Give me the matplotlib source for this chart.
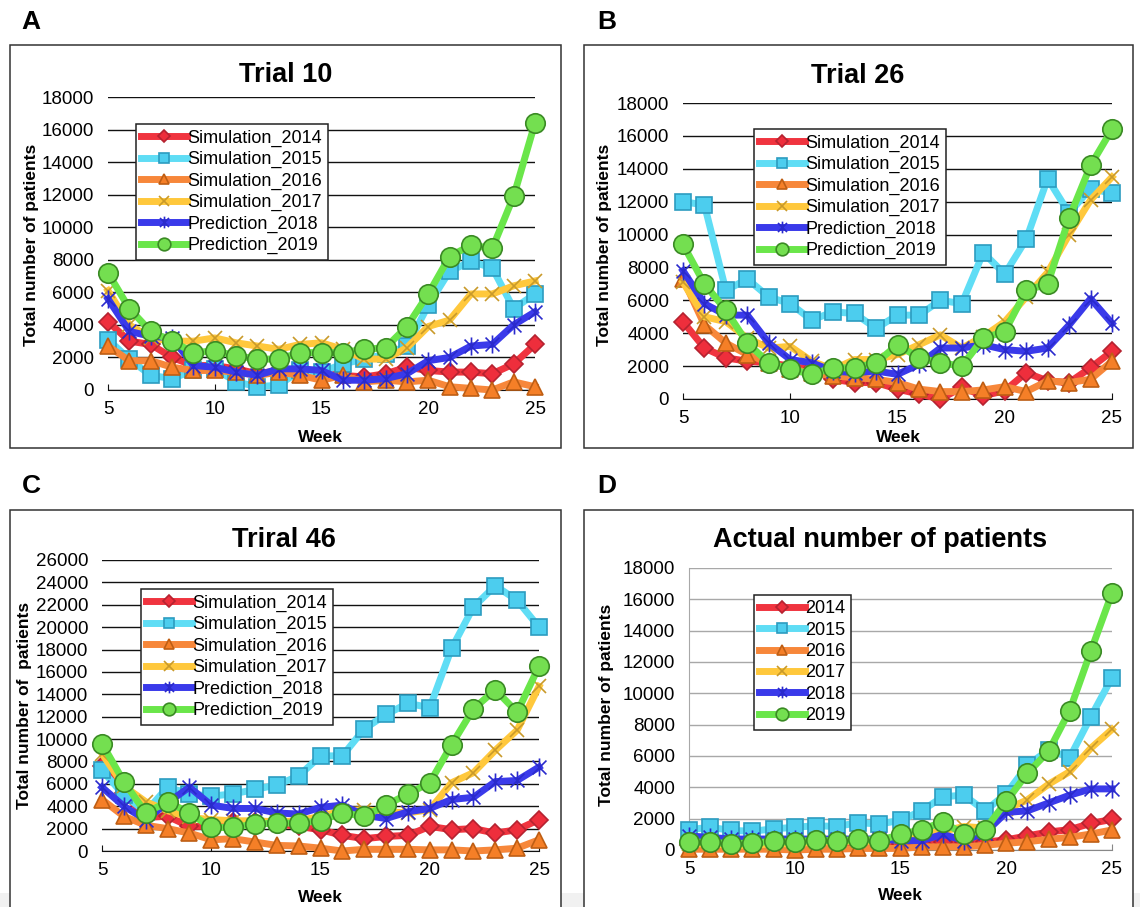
import matplotlib
matplotlib.use("Agg")
import matplotlib.pyplot as plt
from matplotlib.patches import Rectangle
from matplotlib.path import Path

plt.rcParams['font.family'] = ['Liberation Sans', 'DejaVu Sans']

weeks = list(range(5, 26))

# Trial 10
a14 = [4200, 3000, 2800, 2000, 1500, 1500, 1300, 1000, 1200, 1300, 1100, 900, 800, 1000, 1400, 1200, 1100, 1100, 1000, 1600, 2800]
a15 = [3100, 1900, 900, 700, 1200, 1300, 500, 200, 300, 1200, 1100, 1600, 1900, 2200, 2700, 5200, 7300, 7900, 7500, 5000, 5900]
a16 = [2700, 1800, 1800, 1400, 1200, 1200, 1100, 900, 1100, 900, 600, 900, 500, 600, 500, 600, 200, 100, 0, 500, 200]
a17 = [6100, 4000, 3200, 3000, 3000, 3200, 2900, 2700, 2500, 2800, 2900, 2500, 1900, 1900, 2600, 3900, 4300, 5900, 5900, 6400, 6700]
a18 = [5600, 3600, 3300, 3200, 1500, 1400, 1100, 900, 1300, 1300, 1200, 600, 600, 700, 1000, 1800, 2000, 2700, 2800, 4000, 4800]
a19 = [7200, 5000, 3600, 3000, 2300, 2400, 2100, 1900, 1900, 2300, 2300, 2300, 2500, 2600, 3900, 5900, 8200, 8900, 8700, 11900, 16400]

# Trial 26
b14 = [4700, 3100, 2500, 2300, 2200, 2000, 1800, 1200, 1000, 1000, 600, 300, 0, 700, 200, 500, 1600, 1100, 1000, 1900, 2900]
b15 = [12000, 11800, 6600, 7300, 6200, 5800, 4800, 5300, 5200, 4300, 5100, 5100, 6000, 5800, 8900, 7600, 9700, 13400, 11300, 12800, 12500]
b16 = [7300, 4500, 3400, 2700, 2200, 1800, 1600, 1400, 1300, 1200, 1000, 600, 450, 450, 550, 750, 450, 1100, 1000, 1200, 2300]
b17 = [7100, 5000, 4700, 3700, 3100, 3200, 2300, 1800, 2400, 2400, 2700, 3300, 3900, 3100, 3800, 4700, 6200, 7700, 10000, 12100, 13500]
b18 = [7800, 5800, 5100, 5100, 3400, 2400, 2200, 1700, 1600, 1700, 1500, 2100, 3100, 3100, 3300, 3000, 2900, 3100, 4500, 6100, 4600]
b19 = [9400, 7000, 5400, 3400, 2200, 1800, 1500, 1900, 1900, 2200, 3300, 2500, 2200, 2000, 3700, 4100, 6600, 7000, 11000, 14200, 16400]

# Triral 46
c14 = [7600, 5200, 3000, 3100, 2200, 2200, 2600, 2600, 2400, 2200, 1900, 1400, 1100, 1300, 1400, 2200, 1900, 2000, 1600, 1900, 2800]
c15 = [7200, 5000, 3500, 5700, 5100, 4900, 5100, 5500, 5900, 6700, 8500, 8500, 10900, 12200, 13200, 12800, 18100, 21800, 23700, 22400, 20000]
c16 = [4600, 3100, 2300, 2000, 1600, 1000, 1100, 800, 500, 450, 250, 0, 150, 150, 150, 100, 100, 0, 100, 250, 1000]
c17 = [8700, 5800, 4400, 3600, 3000, 2800, 2700, 2700, 2600, 2700, 3100, 3600, 3700, 3500, 3400, 3700, 6100, 7000, 9000, 10800, 14700]
c18 = [5700, 4000, 2800, 4300, 5700, 4100, 3800, 3800, 3400, 3300, 3900, 4100, 3200, 2900, 3500, 3800, 4600, 4800, 6200, 6300, 7500]
c19 = [9600, 6200, 3400, 4400, 3400, 2100, 2100, 2400, 2500, 2500, 2700, 3400, 3100, 4100, 5100, 6100, 9500, 12700, 14400, 12400, 16500]

# Actual number of patients
d14 = [300, 300, 200, 200, 300, 200, 300, 300, 300, 300, 400, 400, 500, 500, 500, 650, 900, 1150, 1300, 1700, 1950]
d15 = [1300, 1450, 1250, 1200, 1350, 1450, 1550, 1500, 1750, 1650, 1900, 2500, 3400, 3500, 2500, 3600, 5400, 6400, 5900, 8500, 11000]
d16 = [50, 50, 50, 50, 50, 0, 50, 50, 100, 100, 100, 200, 200, 200, 300, 430, 530, 680, 810, 1020, 1280]
d17 = [400, 400, 300, 300, 400, 400, 500, 500, 600, 500, 800, 1000, 1200, 1500, 1400, 2600, 3200, 4200, 5000, 6500, 7700]
d18 = [900, 800, 700, 700, 700, 700, 700, 700, 700, 700, 600, 600, 1000, 600, 1100, 2400, 2500, 3000, 3500, 3900, 3900]
d19 = [500, 500, 400, 450, 550, 500, 650, 550, 700, 600, 1000, 1300, 1800, 1000, 1300, 3100, 4900, 6300, 8900, 12700, 16400]

sim_labels = ['Simulation_2014', 'Simulation_2015', 'Simulation_2016',
              'Simulation_2017', 'Prediction_2018', 'Prediction_2019']
year_labels = ['2014', '2015', '2016', '2017', '2018', '2019']

# excel style asterisk: an x with a vertical bar through it
star = Path([(-1, -1), (1, 1), (-1, 1), (1, -1), (0, -1.3), (0, 1.3)],
            [Path.MOVETO, Path.LINETO, Path.MOVETO, Path.LINETO,
             Path.MOVETO, Path.LINETO])

# line colour, marker, face, edge, size
styles = [
    ('#F0343F', 'D', '#EE2E3C', '#B52230', 9),
    ('#5FDDF5', 's', '#4CCDEE', '#2C9CC0', 11),
    ('#F7873A', '^', '#F57F27', '#BE5E14', 11),
    ('#FFC83C', 'x', '#C99A2A', '#C99A2A', 10),
    ('#3A3AEA', star, '#2A2ACC', '#2A2ACC', 13),
    ('#6AE64A', 'o', '#74DF50', '#3A8A24', 14),
]

W, H = 1140, 907
fig = plt.figure(figsize=(W / 100, H / 100), dpi=100)


def fx(x):
    return x / W


def fy(y):
    return 1 - y / H


# light grey strip at the bottom of the page
fig.patches.append(Rectangle((0, 0), 1, fy(893), transform=fig.transFigure,
                             facecolor='#f1f1f1', edgecolor='none', zorder=0))

# panel frames
for x0, y0, x1, y1 in [(10, 45, 561, 448), (584, 45, 1133, 448),
                       (10, 510, 561, 920), (584, 510, 1133, 920)]:
    fig.patches.append(Rectangle((fx(x0), fy(y1)), fx(x1 - x0), (y1 - y0) / H,
                                 transform=fig.transFigure, facecolor='white',
                                 edgecolor='#333333', lw=1.1, zorder=0.5))

panels = [
    dict(letter='A', lx=31, ly=22, box=(108, 97, 535, 390), ymax=18000,
         title='Trial 10', tx=286, ty=75, ylab='Total number of patients',
         ylx=32, yly=245, wx=320, wy=437, leg=(136, 124),
         data=[a14, a15, a16, a17, a18, a19], labels=sim_labels, grey=False),
    dict(letter='B', lx=607, ly=22, box=(683, 103, 1112, 399), ymax=18000,
         title='Trial 26', tx=858, ty=76, ylab='Total number of patients',
         ylx=604, yly=245, wx=898, wy=437, leg=(754, 129),
         data=[b14, b15, b16, b17, b18, b19], labels=sim_labels, grey=False),
    dict(letter='C', lx=31, ly=486, box=(102, 560, 539, 851), ymax=26000,
         title='Triral 46', tx=284, ty=540, ylab='Total number of  patients',
         ylx=25, yly=705, wx=320, wy=898, leg=(141, 589),
         data=[c14, c15, c16, c17, c18, c19], labels=sim_labels, grey=False),
    dict(letter='D', lx=607, ly=486, box=(689, 568, 1112, 850), ymax=18000,
         title='Actual number of patients', tx=880, ty=540,
         ylab='Total number of patients', ylx=606, yly=705, wx=900, wy=896,
         leg=(754, 595), data=[d14, d15, d16, d17, d18, d19],
         labels=year_labels, grey=True),
]

for p in panels:
    x0, y0, x1, y1 = p['box']
    ax = fig.add_axes([fx(x0), fy(y1), fx(x1 - x0), (y1 - y0) / H])
    ax.set_zorder(2)
    ax.set_facecolor('none')
    grid_c = '#a8a8a8' if p['grey'] else '#111111'
    for k, series in enumerate(p['data']):
        lc, mk, mfc, mec, ms = styles[k]
        ax.plot(weeks, series, color=lc, lw=5, marker=mk, ms=ms,
                mfc=mfc, mec=mec, mew=1.2, label=p['labels'][k],
                clip_on=False, zorder=3 + k)
    ax.set_xlim(5, 25)
    ax.set_ylim(0, p['ymax'])
    ax.set_xticks([5, 10, 15, 20, 25])
    ax.set_yticks(range(0, p['ymax'] + 1, 2000))
    ax.grid(axis='y', color=grid_c, lw=1.0)
    ax.set_axisbelow(True)
    for s in ['top', 'right']:
        ax.spines[s].set_visible(False)
    ax.spines['left'].set_visible(p['grey'])
    ax.spines['left'].set_color(grid_c)
    ax.spines['bottom'].set_color('#111111' if not p['grey'] else '#888888')
    ax.tick_params(axis='y', length=0, pad=10, labelsize=13.5)
    ax.tick_params(axis='x', direction='in', length=4, pad=8, labelsize=13.5,
                   color='#111111' if not p['grey'] else '#888888')
    lx, ly = p['leg']
    leg = ax.legend(loc='upper left', bbox_to_anchor=(fx(lx), fy(ly)),
                    bbox_transform=fig.transFigure, fontsize=13,
                    frameon=True, fancybox=False, framealpha=1,
                    edgecolor='#222222', handlelength=2.5, handletextpad=0.05,
                    labelspacing=0.24, borderpad=0.3, borderaxespad=0,
                    markerscale=0.65)
    leg.get_frame().set_linewidth(1.1)
    leg.set_zorder(20)

    fig.text(fx(p['lx']), fy(p['ly']), p['letter'], fontsize=19,
             fontweight='bold', ha='center', va='center')
    fig.text(fx(p['tx']), fy(p['ty']), p['title'], fontsize=19.5,
             fontweight='bold', ha='center', va='center')
    fig.text(fx(p['ylx']), fy(p['yly']), p['ylab'], fontsize=12.5,
             fontweight='bold', rotation=90, ha='center', va='center')
    fig.text(fx(p['wx']), fy(p['wy']), 'Week', fontsize=12.5,
             fontweight='bold', ha='center', va='center')

fig.savefig('out.png', dpi=100)
